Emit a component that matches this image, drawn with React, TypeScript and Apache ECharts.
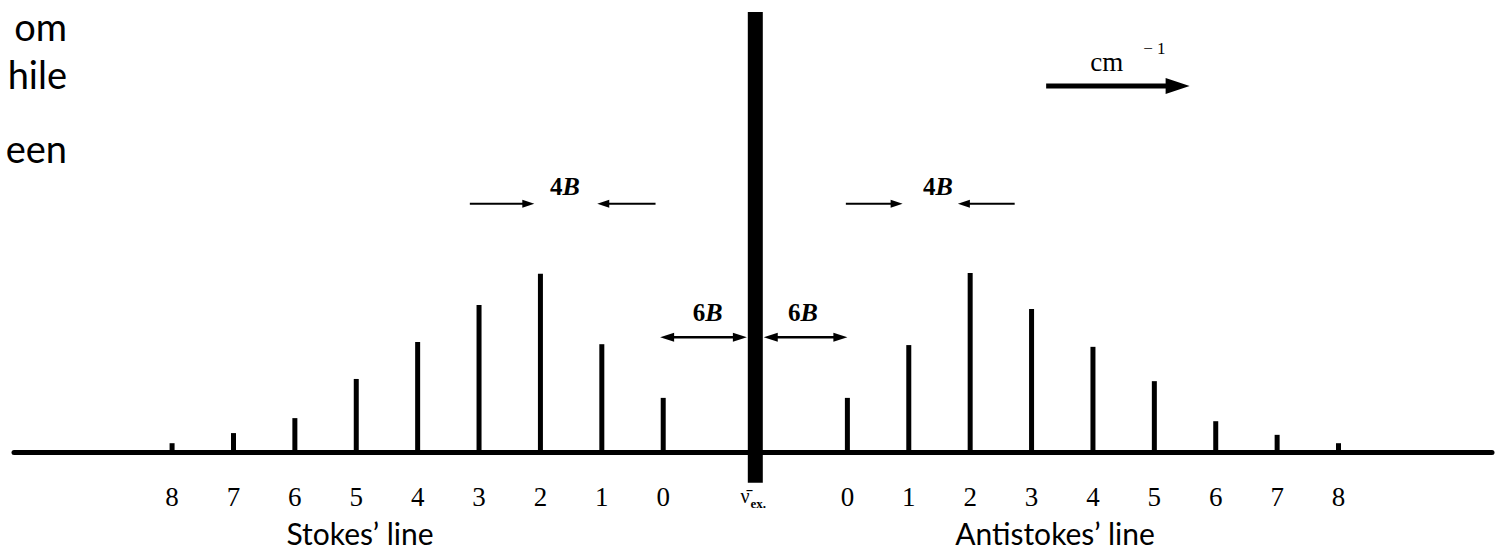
import React, { useEffect, useRef } from "react";
import * as echarts from "echarts";

// Rotational Raman spectrum: shifts in units of B, intensities relative (Rayleigh = 100)
const stokesJ = ["8", "7", "6", "5", "4", "3", "2", "1", "0"];
const stokesShift = [-38, -34, -30, -26, -22, -18, -14, -10, -6];
const stokesIntensity = [2, 4.3, 7.7, 16.6, 25, 33.4, 40.5, 24.5, 12.3];

const antiJ = ["0", "1", "2", "3", "4", "5", "6", "7", "8"];
const antiShift = [6, 10, 14, 18, 22, 26, 30, 34, 38];
const antiIntensity = [12.3, 24.3, 40.7, 32.5, 23.9, 16.1, 7, 3.9, 2];

const rayleighShift = [0];
const rayleighTop = [100];
const rayleighBottom = [-7];

const X_MIN = -48.3;
const X_MAX = 48;

const SERIF = "'Liberation Serif', 'DejaVu Serif', serif";
const SANS = "Lato, 'Open Sans', sans-serif";

export default function App() {
  const ref = useRef<HTMLDivElement>(null);

  useEffect(() => {
    const chart = echarts.init(ref.current as HTMLDivElement, null, { renderer: "svg" });

    const spikeSeries = (data: number[][], width: number) => ({
      type: "custom",
      clip: false,
      silent: true,
      data,
      renderItem: (_p: any, api: any) => {
        const x = api.value(0);
        const top = api.coord([x, api.value(1)]);
        const bot = api.coord([x, api.value(2)]);
        return {
          type: "rect",
          shape: { x: top[0] - width / 2, y: top[1], width, height: bot[1] - top[1] },
          style: { fill: "#000" },
        };
      },
    });

    const labelData: any[] = [];
    stokesShift.forEach((s, i) => labelData.push([s, 0, stokesJ[i]]));
    antiShift.forEach((s, i) => labelData.push([s, 0, antiJ[i]]));

    chart.setOption({
      animation: false,
      grid: { left: 14, right: 17, top: 12, bottom: 59 },
      xAxis: {
        type: "value",
        min: X_MIN,
        max: X_MAX,
        axisLine: { show: true, onZero: true, lineStyle: { color: "#000", width: 5 } },
        axisTick: { show: false },
        axisLabel: { show: false },
        splitLine: { show: false },
      },
      yAxis: {
        type: "value",
        min: -10,
        max: 100,
        show: false,
        splitLine: { show: false },
      },
      series: [
        spikeSeries(stokesShift.map((s, i) => [s, stokesIntensity[i], 0]), 5),
        spikeSeries(antiShift.map((s, i) => [s, antiIntensity[i], 0]), 5),
        spikeSeries(rayleighShift.map((s, i) => [s, rayleighTop[i], rayleighBottom[i]]), 15),
        {
          type: "custom",
          clip: false,
          silent: true,
          data: labelData,
          renderItem: (params: any, api: any) => {
            const d = labelData[params.dataIndex];
            const p = api.coord([d[0], 0]);
            return {
              type: "text",
              x: p[0],
              y: p[1] + 45,
              style: {
                text: d[2],
                align: "center",
                verticalAlign: "middle",
                fontSize: 27,
                fontFamily: SERIF,
                fill: "#000",
              },
            };
          },
        },
      ],
    });

    const px = (x: number, y: number) => chart.convertToPixel({ gridIndex: 0 }, [x, y]) as number[];

    const arrow = (
      x1: number, y1: number, x2: number, y2: number,
      lw: number, hl: number, hw: number, both = false
    ) => {
      const a = px(x1, y1);
      const b = px(x2, y2);
      const dir = Math.sign(b[0] - a[0]);
      const els: any[] = [];
      const startX = both ? a[0] + dir * hl * 0.8 : a[0];
      els.push({
        type: "line",
        shape: { x1: startX, y1: a[1], x2: b[0] - dir * hl * 0.8, y2: b[1] },
        style: { stroke: "#000", lineWidth: lw },
      });
      els.push({
        type: "polygon",
        shape: { points: [[b[0], b[1]], [b[0] - dir * hl, b[1] - hw / 2], [b[0] - dir * hl, b[1] + hw / 2]] },
        style: { fill: "#000" },
      });
      if (both) {
        els.push({
          type: "polygon",
          shape: { points: [[a[0], a[1]], [a[0] + dir * hl, a[1] - hw / 2], [a[0] + dir * hl, a[1] + hw / 2]] },
          style: { fill: "#000" },
        });
      }
      return els;
    };

    const bText = (x: number, y: number, num: string) => {
      const p = px(x, y);
      return {
        type: "text",
        x: p[0],
        y: p[1],
        style: {
          text: "{n|" + num + "}{b|B}",
          align: "center",
          verticalAlign: "middle",
          rich: {
            n: { fontSize: 25, fontWeight: "bold", fontFamily: SERIF, fill: "#000" },
            b: { fontSize: 26, fontWeight: "bold", fontStyle: "italic", fontFamily: SERIF, fill: "#000" },
          },
        },
      };
    };

    const plainText = (x: number, y: number, text: string, size: number, family: string, align = "center") => ({
      type: "text",
      x,
      y,
      style: { text, fontSize: size, fontFamily: family, fill: "#000", align, verticalAlign: "middle" },
    });

    const vex = px(0, 0);
    const cm = px(22.9, 88.6);
    const sup = px(26.0, 91.6);

    const graphic: any[] = [
      // 4B markers (Stokes side)
      ...arrow(-18.6, 56.4, -14.4, 56.4, 2, 12, 8),
      ...arrow(-6.5, 56.4, -10.3, 56.4, 2, 12, 8),
      bText(-12.4, 60.4, "4"),
      // 4B markers (anti-Stokes side)
      ...arrow(5.9, 56.4, 9.6, 56.4, 2, 12, 8),
      ...arrow(16.9, 56.4, 13.2, 56.4, 2, 12, 8),
      bText(11.9, 60.4, "4"),
      // 6B markers
      ...arrow(-6.2, 26.1, -0.55, 26.1, 2.5, 14, 9, true),
      ...arrow(0.55, 26.1, 6.0, 26.1, 2.5, 14, 9, true),
      bText(-3.1, 31.8, "6"),
      bText(3.1, 31.8, "6"),
      // cm^-1 direction arrow
      ...arrow(18.95, 83.2, 28.3, 83.2, 5, 24, 16),
      plainText(cm[0], cm[1], "cm", 27, SERIF),
      plainText(sup[0], sup[1], "− 1", 17, SERIF),
      // excitation label
      {
        type: "text",
        x: vex[0] - 2,
        y: vex[1] + 44,
        style: {
          text: "{v|ν̄}{s|ex.}",
          align: "center",
          verticalAlign: "middle",
          rich: {
            v: { fontSize: 20, fontFamily: SERIF, fill: "#000" },
            s: { fontSize: 13, fontWeight: "bold", fontFamily: SERIF, fill: "#000", padding: [14, 0, 0, 1] },
          },
        },
      },
      // series captions
      plainText(360, 533, "Stokes’ line", 30, SANS),
      plainText(1055, 533, "Antistokes’ line", 30, SANS),
      // slide text fragments at left
      plainText(67, 26, "om", 38, SANS, "right"),
      plainText(67, 74, "hile", 38, SANS, "right"),
      plainText(67, 148, "een", 38, SANS, "right"),
    ];

    chart.setOption({ graphic });

    return () => chart.dispose();
  }, []);

  return <div ref={ref} style={{ width: 1509, height: 555, position: "absolute", left: 0, top: 0, background: "#fff" }} />;
}
